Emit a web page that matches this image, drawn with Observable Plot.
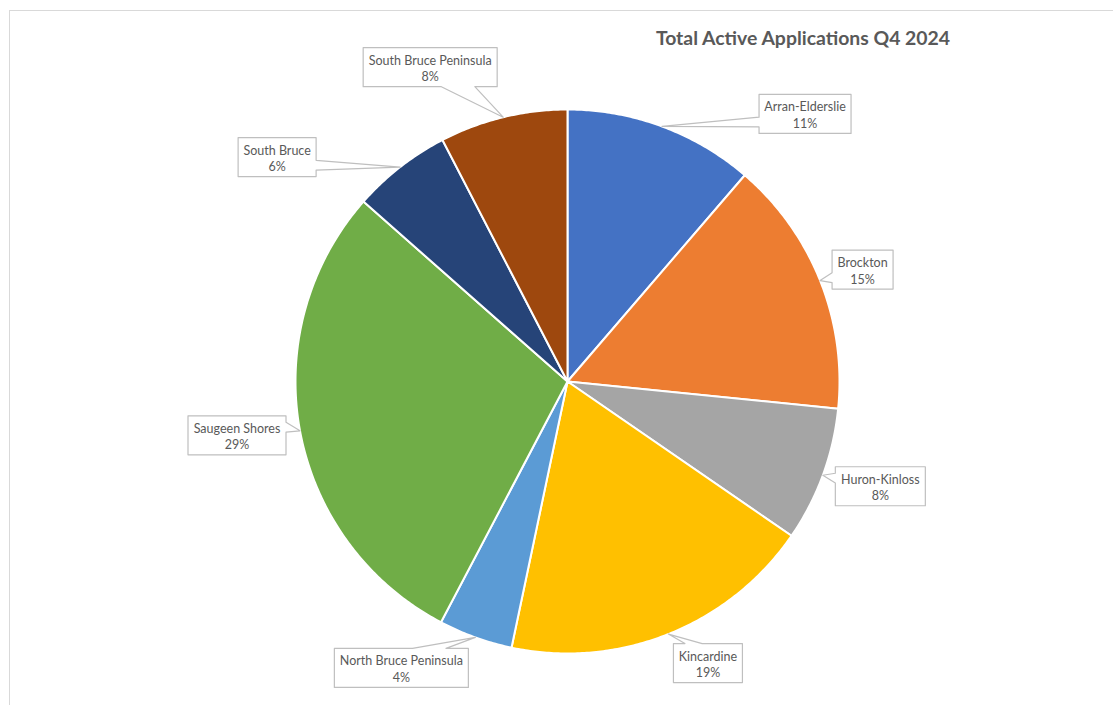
<!DOCTYPE html>
<html><head><meta charset="utf-8">
<script src="https://cdn.jsdelivr.net/npm/d3@7"></script>
<script src="https://cdn.jsdelivr.net/npm/@observablehq/plot@0.6"></script>
<style>
html,body{margin:0;padding:0;background:#fff;overflow:hidden;width:1113px;height:705px}
#frame{position:absolute;left:9px;top:10px;width:1200px;height:800px;border:1px solid #D9D9D9;}
#chart{position:absolute;left:0;top:0}
#title{position:absolute;top:25px;left:603px;width:400px;text-align:center;font-family:Lato,sans-serif;font-weight:bold;font-size:19.4px;color:#595959;line-height:25px}
</style></head><body>
<div id="frame"></div><div id="chart"></div><div id="title"></div>
<script>
// ---- data ----
const municipalities = ["Arran-Elderslie","Brockton","Huron-Kinloss","Kincardine","North Bruce Peninsula","Saugeen Shores","South Bruce","South Bruce Peninsula"];
const applications = [11.3, 15.3, 8.0, 18.7, 4.4, 28.8, 5.9, 7.6];
const chartTitle = "Total Active Applications Q4 2024";

// ---- style / layout ----
const colors = ["#4472C4","#ED7D31","#A5A5A5","#FFC000","#5B9BD5","#70AD47","#264478","#9E480E"];
const labelOffsets = [[143,-12.5],[42.5,-11],[57.5,11],[39.5,29],[-74,30.5],[-63,4.5],[-123,-10],[-73,-50]]; // px, tip -> box centre
const W = 1113, H = 705, cx = 567, cy = 381, R = 272;
const labelFont = "12.5px Lato";
const labelColor = "#595959";

document.getElementById("title").textContent = chartTitle;

const total = d3.sum(applications);
const ctx = document.createElement("canvas").getContext("2d");
ctx.font = labelFont;

// slices in unit-radius coordinates (y downward), clockwise from 12 o'clock
const sliceRows = [];
const callRows = [];
const textRows = [];
let acc = 0;
municipalities.forEach((name, i) => {
  const v = applications[i];
  const a0 = acc / total * 2 * Math.PI;
  acc += v;
  const a1 = acc / total * 2 * Math.PI;
  sliceRows.push({name, x: 0, y: 0});
  const n = Math.max(2, Math.ceil((a1 - a0) / (Math.PI / 360)));
  for (let k = 0; k <= n; k++) {
    const a = a0 + (a1 - a0) * k / n;
    sliceRows.push({name, x: Math.sin(a), y: -Math.cos(a)});
  }
  sliceRows.push({name, x: 0, y: 0});

  // callout label
  const am = (a0 + a1) / 2;
  const tx = cx + R * Math.sin(am), ty = cy - R * Math.cos(am);
  const pct = Math.round(v / total * 100) + "%";
  const tw = Math.max(ctx.measureText(name).width, ctx.measureText(pct).width);
  const bw = Math.round(tw + 11), bh = 39;
  const hc = tx + labelOffsets[i][0], vc = ty + labelOffsets[i][1];
  const l = hc - bw / 2, r = hc + bw / 2, t = vc - bh / 2, b = vc + bh / 2;
  const dxPos = tx - hc, dyPos = ty - vc;
  const dz = Math.abs(dxPos * bh) - Math.abs(dyPos * bw);
  const x1 = l + bw * (dxPos > 0 ? 7 : 2) / 12, x2 = l + bw * (dxPos > 0 ? 10 : 5) / 12;
  const y1 = t + bh * (dyPos > 0 ? 7 : 2) / 12, y2 = t + bh * (dyPos > 0 ? 10 : 5) / 12;
  const pts = [[l, t]];
  if (dz <= 0 && dyPos < 0) pts.push([x1, t], [tx, ty], [x2, t]);
  pts.push([r, t]);
  if (dz > 0 && dxPos > 0) pts.push([r, y1], [tx, ty], [r, y2]);
  pts.push([r, b]);
  if (dz <= 0 && dyPos > 0) pts.push([x2, b], [tx, ty], [x1, b]);
  pts.push([l, b]);
  if (dz > 0 && dxPos < 0) pts.push([l, y2], [tx, ty], [l, y1]);
  pts.push([l, t]);
  pts.forEach(([px, py]) => callRows.push({name, x: (px - cx) / R, y: (py - cy) / R}));
  textRows.push({name, x: (hc - cx) / R, y: (vc + 0.5 - cy) / R, label: name + "\n" + pct});
});

const chart = Plot.plot({
  width: W, height: H, margin: 0,
  x: {domain: [-cx / R, (W - cx) / R], range: [0, W], axis: null},
  y: {domain: [-cy / R, (H - cy) / R], range: [0, H], axis: null},
  color: {domain: municipalities, range: colors},
  style: {background: "transparent", fontFamily: "Lato, sans-serif"},
  marks: [
    Plot.line(sliceRows, {x: "x", y: "y", z: "name", fill: "name", stroke: "white", strokeWidth: 2, strokeLinejoin: "round", curve: "linear"}),
    Plot.line(callRows, {x: "x", y: "y", z: "name", fill: "white", stroke: "#BFBFBF", strokeWidth: 1.2, curve: "linear"}),
    Plot.text(textRows, {x: "x", y: "y", text: "label", fill: labelColor, fontSize: 12.5, lineHeight: 1.33, fontFamily: "Lato, sans-serif"})
  ]
});
document.getElementById("chart").appendChild(chart);
</script>
</body></html>
